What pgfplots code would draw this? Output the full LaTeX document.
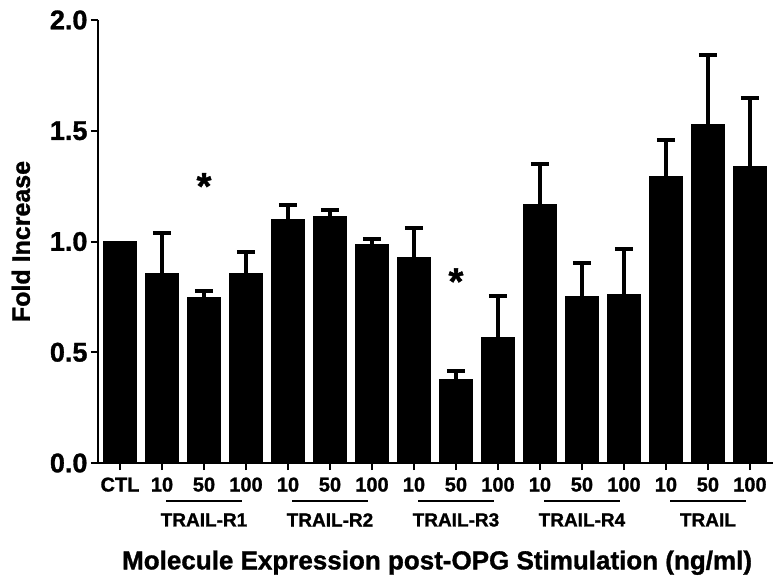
\documentclass[border=0pt]{standalone}
\usepackage{fontspec}
\setmainfont{Liberation Sans}[BoldFeatures={FakeBold=1.2}]
\usepackage{pgfplots}
\usepackage{pgfplotstable}
\pgfplotsset{compat=1.18}
\pgfplotstableread{
x y err
1 0.856 0.184
2 0.748 0.030
3 0.856 0.095
4 1.100 0.067
5 1.113 0.031
6 0.986 0.027
7 0.928 0.132
8 0.378 0.037
9 0.568 0.184
10 1.167 0.183
11 0.752 0.153
12 0.760 0.208
13 1.293 0.167
14 1.530 0.310
15 1.340 0.310
}\datatable
\begin{document}
\begin{tikzpicture}
\useasboundingbox (-98pt,-116pt) rectangle (675pt,463pt);
\begin{axis}[
  scale only axis,
  width=675pt, height=443pt,
  xmin=-0.524, xmax=15.55,
  ymin=0, ymax=2,
  axis x line*=bottom, axis y line*=left,
  axis line style={line width=2.5pt},
  tick align=outside,
  major tick length=7pt,
  tick style={line width=2pt, black},
  xtick={0,...,15},
  xticklabels={CTL,10,50,100,10,50,100,10,50,100,10,50,100,10,50,100},
  ytick={0,0.5,1,1.5,2},
  yticklabels={0.0,0.5,1.0,1.5,2.0},
  xticklabel style={font=\fontsize{20}{22}\selectfont\bfseries, yshift=-4pt},
  yticklabel style={font=\fontsize{27}{30}\selectfont\bfseries},
  clip=false,
]
\addplot[ybar, bar width=0.79, bar shift=0pt, fill=black, draw=black]
  coordinates {(0,1.0)};
\addplot[ybar, bar width=0.79, bar shift=0pt, fill=black, draw=black,
  error bars/.cd, y dir=plus, y explicit,
  error bar style={line width=3.5pt},
  error mark options={rotate=90, line width=4pt, mark size=9pt}]
  table[x=x, y=y, y error=err]{\datatable};
\node[font=\fontsize{38}{38}\selectfont\bfseries] at (axis cs:2,1.25) {*};
\node[font=\fontsize{38}{38}\selectfont\bfseries] at (axis cs:8,0.82) {*};
\draw[line width=1.8pt] (axis cs:1.1,-0.172) -- (axis cs:2.9,-0.172);
\draw[line width=1.8pt] (axis cs:4.1,-0.172) -- (axis cs:5.9,-0.172);
\draw[line width=1.8pt] (axis cs:7.1,-0.172) -- (axis cs:8.9,-0.172);
\draw[line width=1.8pt] (axis cs:10.1,-0.172) -- (axis cs:11.9,-0.172);
\draw[line width=1.8pt] (axis cs:13.1,-0.172) -- (axis cs:14.9,-0.172);
\node[font=\fontsize{19}{20}\selectfont\bfseries] at (axis cs:2,-0.257) {TRAIL-R1};
\node[font=\fontsize{19}{20}\selectfont\bfseries] at (axis cs:5,-0.257) {TRAIL-R2};
\node[font=\fontsize{19}{20}\selectfont\bfseries] at (axis cs:8,-0.257) {TRAIL-R3};
\node[font=\fontsize{19}{20}\selectfont\bfseries] at (axis cs:11,-0.257) {TRAIL-R4};
\node[font=\fontsize{19}{20}\selectfont\bfseries] at (axis cs:14,-0.257) {TRAIL};
\node[font=\fontsize{26}{28}\selectfont\bfseries] at (axis cs:7.55,-0.45) {Molecule Expression post-OPG Stimulation (ng/ml)};
\node[font=\fontsize{25}{27}\selectfont\bfseries, rotate=90] at (axis cs:-2.36,1.0) {Fold Increase};
\end{axis}
\end{tikzpicture}
\end{document}
